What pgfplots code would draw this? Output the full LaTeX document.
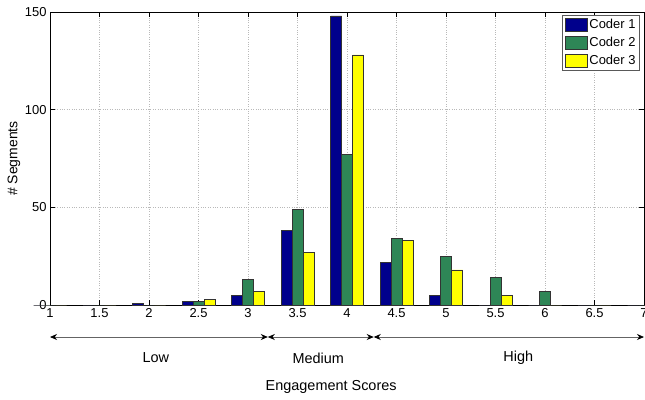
\documentclass[border=0pt]{standalone}
\usepackage{fontspec}
\setmainfont{Liberation Sans}
\usepackage{pgfplots}
\pgfplotsset{compat=1.18}
\usetikzlibrary{arrows.meta}
\definecolor{cOne}{RGB}{0,0,140}
\definecolor{cTwo}{RGB}{46,134,86}
\definecolor{cThree}{RGB}{255,255,0}
\definecolor{arr}{RGB}{100,100,100}
\begin{document}
\begin{tikzpicture}
\begin{axis}[
  scale only axis,
  width=594bp, height=293bp,
  xmin=1, xmax=7, ymin=0, ymax=150,
  xtick={1,1.5,...,7},
  ytick={0,50,100,150},
  ybar=0pt, bar width=11bp,
  grid=major,
  grid style={dotted, gray!55, line width=0.6bp},
  major tick length=5bp,
  tick align=inside,
  tick style={black, line width=0.6bp},
  axis line style={black, line width=0.8bp},
  tick label style={font=\fontsize{13}{15}\selectfont},
  /pgf/number format/assume math mode=true,
  clip=false,
  ylabel={\# Segments},
  ylabel style={font=\fontsize{14}{16}\selectfont, at={(axis description cs:-0.0606,0.5)}, anchor=center, rotate=0},
  legend style={at={(rel axis cs:1,1)}, anchor=north east, xshift=-4bp, yshift=-3bp,
    draw=gray!70!black, line width=1bp, font=\fontsize{13}{15}\selectfont,
    inner sep=2bp, row sep=3bp, cells={anchor=west}},
  legend image code/.code={\draw[#1, line width=0.6bp] (0bp,-6.5bp) rectangle (22bp,6.5bp);},
  legend cell align=left,
]
\addplot[fill=cOne, draw=black!80, line width=0.6bp] coordinates {
 (1,0) (1.5,0) (2,1) (2.5,2) (3,5) (3.5,38) (4,148) (4.5,22) (5,5) (5.5,0) (6,0) (6.5,0) (7,0)};
\addplot[fill=cTwo, draw=black!80, line width=0.6bp] coordinates {
 (1,0) (1.5,0) (2,0) (2.5,2) (3,13) (3.5,49) (4,77) (4.5,34) (5,25) (5.5,14) (6,7) (6.5,0) (7,0)};
\addplot[fill=cThree, draw=black!80, line width=0.6bp] coordinates {
 (1,0) (1.5,0) (2,0) (2.5,3) (3,7) (3.5,27) (4,128) (4.5,33) (5,18) (5.5,5) (6,0) (6.5,0) (7,0)};
\legend{Coder 1, Coder 2, Coder 3}
\draw[arr, line width=0.8bp, {Stealth[black,length=7bp,width=6bp]}-{Stealth[black,length=7bp,width=6bp]}]
  ([yshift=-32bp]axis cs:1,0) -- ([yshift=-32bp]axis cs:3.2,0);
\draw[arr, line width=0.8bp, {Stealth[black,length=7bp,width=6bp]}-{Stealth[black,length=7bp,width=6bp]}]
  ([yshift=-32bp]axis cs:3.2,0) -- ([yshift=-32bp]axis cs:4.27,0);
\draw[arr, line width=0.8bp, {Stealth[black,length=7bp,width=6bp]}-{Stealth[black,length=7bp,width=6bp]}]
  ([yshift=-32bp]axis cs:4.27,0) -- ([yshift=-32bp]axis cs:7,0);
\node[font=\fontsize{14.5}{16}\selectfont, anchor=center] at ([yshift=-53bp]axis cs:2.07,0) {Low};
\node[font=\fontsize{14.5}{16}\selectfont, anchor=center] at ([yshift=-53bp]axis cs:3.71,0) {Medium};
\node[font=\fontsize{14.5}{16}\selectfont, anchor=center] at ([yshift=-53bp]axis cs:5.73,0) {High};
\node[font=\fontsize{14.5}{16}\selectfont, anchor=center] at ([yshift=-82bp]axis cs:3.84,0) {Engagement Scores};
\coordinate (bbsw) at ([xshift=-50bp,yshift=-94bp]axis cs:1,0);
\coordinate (bbne) at ([xshift=1bp,yshift=12bp]axis cs:7,150);
\end{axis}
\pgfresetboundingbox
\useasboundingbox (bbsw) rectangle (bbne);
\end{tikzpicture}
\end{document}
